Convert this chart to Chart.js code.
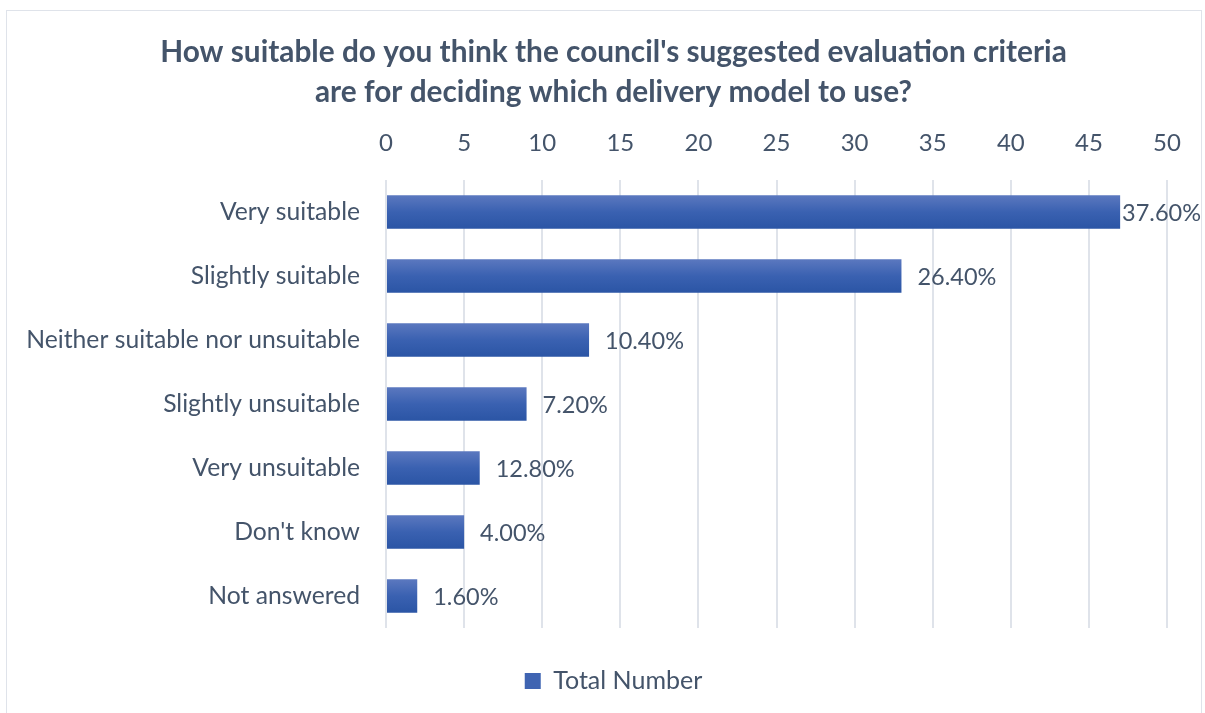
<!DOCTYPE html>
<html>
<head>
<meta charset="utf-8">
<script src="https://cdn.jsdelivr.net/npm/chart.js@4.4.1/dist/chart.umd.min.js"></script>
<style>
  html, body { margin: 0; padding: 0; background: #ffffff; }
  #wrap { position: relative; width: 1205px; height: 713px; overflow: hidden; }
  #frame { position: absolute; left: 6px; top: 10px; width: 1196px; height: 720px; border: 1.5px solid #dfe3ea; box-sizing: border-box; }
  canvas { position: absolute; left: 0; top: 0; }
</style>
</head>
<body>
<div id="wrap">
  <div id="frame"></div>
  <canvas id="c" width="1205" height="713"></canvas>
</div>
<script>
const categories = ["Very suitable", "Slightly suitable", "Neither suitable nor unsuitable", "Slightly unsuitable", "Very unsuitable", "Don't know", "Not answered"];
const totalNumber = [47, 33, 13, 9, 6, 5, 2];
const percentLabels = ["37.60%", "26.40%", "10.40%", "7.20%", "12.80%", "4.00%", "1.60%"];
const xTicks = [0, 5, 10, 15, 20, 25, 30, 35, 40, 45, 50];
const titleLines = ["How suitable do you think the council's suggested evaluation criteria", "are for deciding which delivery model to use?"];
const seriesName = "Total Number";

const FONT = "Lato, 'Open Sans', sans-serif";
const TEXT = "#44546a";

const gradientBars = {
  id: 'gradientBars',
  beforeDatasetsDraw(chart) {
    const ctx = chart.ctx;
    const meta = chart.getDatasetMeta(0);
    meta.data.forEach(el => {
      const p = el.getProps(['y', 'height'], true);
      if (!isFinite(p.y) || !isFinite(p.height)) return;
      const top = p.y - p.height / 2, bot = p.y + p.height / 2;
      const g = ctx.createLinearGradient(0, top, 0, bot);
      g.addColorStop(0, '#5b78bf');
      g.addColorStop(0.5, '#3a61b1');
      g.addColorStop(1, '#2b55a5');
      el.options = Object.assign({}, el.options, { backgroundColor: g });
    });
  }
};

const valueLabels = {
  id: 'valueLabels',
  afterDatasetsDraw(chart) {
    const ctx = chart.ctx;
    const meta = chart.getDatasetMeta(0);
    ctx.save();
    ctx.font = "23.5px " + FONT;
    ctx.fillStyle = TEXT;
    ctx.textAlign = 'left';
    ctx.textBaseline = 'middle';
    meta.data.forEach((el, i) => {
      const p = el.getProps(['x', 'y'], true);
      const w = ctx.measureText(percentLabels[i]).width;
      const x = Math.min(p.x + 16, chart.width - 4 - w);
      ctx.fillText(percentLabels[i], x, p.y + 1);
    });
    ctx.restore();
  }
};

new Chart(document.getElementById('c'), {
  type: 'bar',
  data: {
    labels: categories,
    datasets: [{
      label: seriesName,
      data: totalNumber,
      backgroundColor: '#3f64b2',
      borderWidth: 0,
      categoryPercentage: 1,
      barPercentage: 0.52
    }]
  },
  options: {
    indexAxis: 'y',
    responsive: false,
    animation: false,
    devicePixelRatio: 1,
    layout: { padding: { top: 10, right: 0, bottom: 9.5, left: 22 } },
    scales: {
      x: {
        position: 'top',
        min: 0, max: 50,
        afterBuildTicks(scale) { scale.ticks = xTicks.map(v => ({ value: v })); },
        afterFit(scale) { scale.height = 68; },
        ticks: { color: TEXT, font: { family: FONT, size: 24 }, padding: 22.6 },
        grid: { color: '#dfe3ea', lineWidth: 2, drawTicks: false },
        border: { display: false }
      },
      y: {
        afterFit(scale) { scale.width = 364; },
        ticks: { color: TEXT, font: { family: FONT, size: 24.7 }, padding: 26 },
        grid: { display: false, drawTicks: false },
        border: { display: false }
      },
      gutter: {
        type: 'linear',
        position: 'right',
        display: true,
        afterFit(scale) { scale.width = 38; },
        ticks: { display: false },
        grid: { display: false, drawTicks: false },
        border: { display: false }
      }
    },
    plugins: {
      title: {
        display: true,
        text: titleLines,
        color: TEXT,
        font: { family: FONT, size: 29.8, weight: 'bold', lineHeight: 40 / 29.8 },
        padding: { top: 22, bottom: 0 }
      },
      legend: {
        display: true,
        position: 'bottom',
        labels: {
          color: TEXT,
          font: { family: FONT, size: 25 },
          boxWidth: 16, boxHeight: 16,
          padding: 40.5
        }
      },
      tooltip: { enabled: false }
    }
  },
  plugins: [gradientBars, valueLabels]
});
</script>
</body>
</html>
